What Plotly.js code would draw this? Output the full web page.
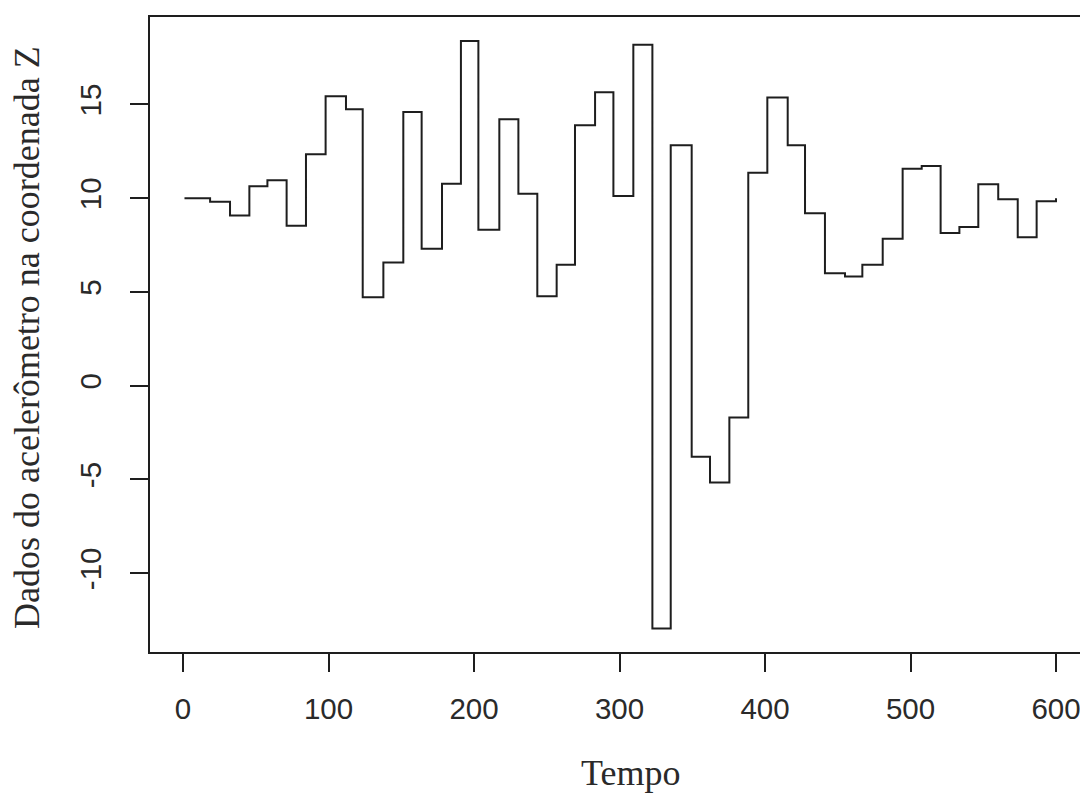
<!DOCTYPE html>
<html>
<head>
<meta charset="utf-8">
<script src="https://cdn.plot.ly/plotly-3.0.1.min.js"></script>
<style>
  html, body { margin: 0; padding: 0; background: #ffffff; }
  #chart { width: 1080px; height: 794px; }
</style>
</head>
<body>
<div id="chart"></div>
<script>
// Step breakpoints (Tempo) and the value held from each breakpoint on
const tempo = [1, 18.6, 32.3, 45.6, 58, 71.2, 84.5, 98, 112, 123.5, 137.7, 151.4, 164, 178, 191, 203,
  217.4, 230.5, 243.5, 256.8, 269.4, 283.2, 295.8, 309.5, 322.6, 335.2, 349.6, 362.2, 375.5, 388.5,
  401.6, 415.6, 427.5, 441.2, 455, 466.9, 480.9, 494.6, 507.7, 520.7, 533.6, 546.6, 560.3, 573.7,
  586.7, 600];
const acelZ = [10.0, 9.81, 9.08, 10.63, 10.95, 8.53, 12.34, 15.44, 14.74, 4.72, 6.57, 14.6, 7.3, 10.77,
  18.38, 8.32, 14.21, 10.24, 4.77, 6.45, 13.89, 15.65, 10.11, 18.18, -12.95, 12.82, -3.79, -5.16,
  -1.69, 11.36, 15.37, 12.82, 9.2, 6.0, 5.82, 6.45, 7.83, 11.57, 11.72, 8.14, 8.46, 10.74, 9.94,
  7.92, 9.83, 10.0];

const xTicks = [0, 100, 200, 300, 400, 500, 600];
const xTickLabels = ["0", "100", "200", "300", "400", "500", "600"];
const yTicks = [-10, -5, 0, 5, 10, 15];
const yTickLabels = ["-10", "-5", "0", "5", "10", "15"];

const xLabel = "Tempo";
const yLabel = "Dados do acelerômetro na coordenada Z";

const ink = "#1e1e1e";

const trace = {
  x: tempo,
  y: acelZ,
  type: "scatter",
  mode: "lines",
  line: { shape: "hv", color: ink, width: 2 },
  hoverinfo: "x+y"
};

const tickFont = { family: "Liberation Sans, Arial, sans-serif", size: 29.5, color: "#2a2a2a" };
const titleFont = { family: "Liberation Serif, Times New Roman, serif", size: 36, color: "#2a2a2a" };

const layout = {
  width: 1080,
  height: 794,
  paper_bgcolor: "#ffffff",
  plot_bgcolor: "#ffffff",
  showlegend: false,
  margin: { l: 150, r: 0, t: 17, b: 142 },
  xaxis: {
    range: [-22.7, 616.5],
    tickvals: xTicks,
    ticktext: xTickLabels,
    ticks: "outside",
    ticklen: 18,
    tickwidth: 2,
    tickcolor: ink,
    tickfont: tickFont,
    ticklabelstandoff: 12,
    ticklabeloverflow: "allow",
    automargin: false,
    showgrid: false,
    zeroline: false,
    showline: true,
    mirror: true,
    linecolor: ink,
    linewidth: 2
  },
  yaxis: {
    range: [-14.2, 19.66],
    tickvals: yTicks,
    ticktext: yTickLabels,
    tickangle: -90,
    ticks: "outside",
    ticklen: 18,
    tickwidth: 2,
    tickcolor: ink,
    tickfont: tickFont,
    ticklabelstandoff: 17,
    automargin: false,
    showgrid: false,
    zeroline: false,
    showline: true,
    mirror: false,
    linecolor: ink,
    linewidth: 2
  },
  annotations: [
    {
      text: xLabel, xref: "paper", yref: "paper",
      x: 0.517, y: -0.19, xanchor: "center", yanchor: "middle",
      showarrow: false, font: titleFont
    },
    {
      text: yLabel, xref: "paper", yref: "paper",
      x: -0.1317, y: 0.4953, xanchor: "center", yanchor: "middle",
      textangle: -90, showarrow: false, font: titleFont
    }
  ]
};

Plotly.newPlot("chart", [trace], layout, { displayModeBar: false, staticPlot: true });
</script>
</body>
</html>
